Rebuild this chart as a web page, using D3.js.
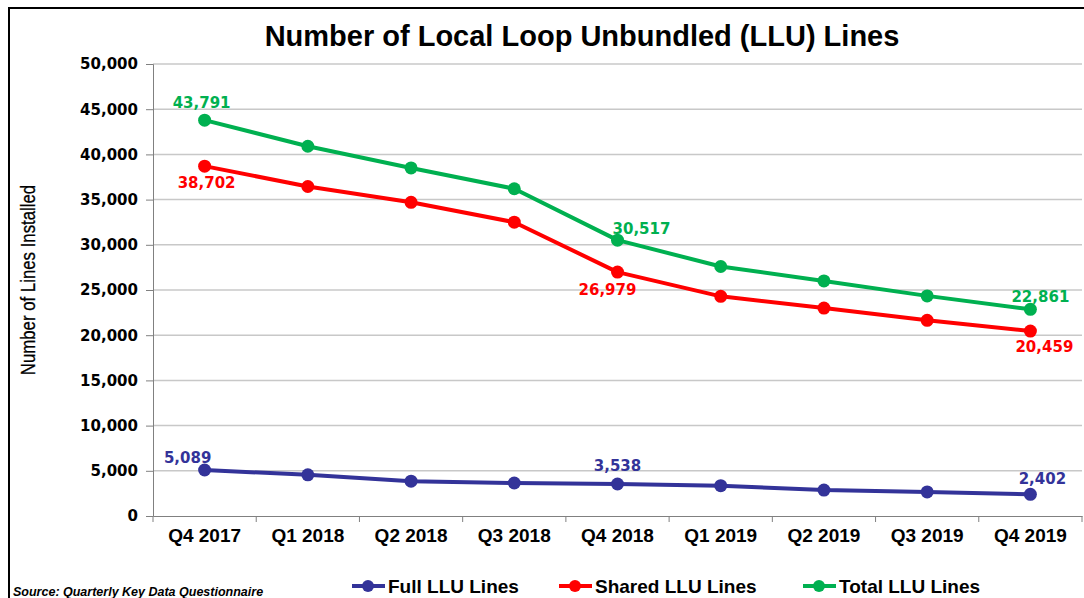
<!DOCTYPE html>
<html>
<head>
<meta charset="utf-8">
<script src="https://d3js.org/d3.v7.min.js"></script>
<style>
  body { margin: 0; background: #fff; }
  svg { font-family: "Liberation Sans", Arial, sans-serif; }
  .grid line { stroke: #c8c8c8; stroke-width: 1.5; }
  .axis path, .axis line { stroke: #808080; }
  .num { font-family: "DejaVu Sans", Verdana, sans-serif; font-weight: bold; font-size: 15px; }
</style>
</head>
<body>
<script>

  // data
  var quarters = ["Q4 2017", "Q1 2018", "Q2 2018", "Q3 2018", "Q4 2018", "Q1 2019", "Q2 2019", "Q3 2019", "Q4 2019"];
  var fullLines   = [5089, 4550, 3850, 3650, 3538, 3350, 2870, 2660, 2402];
  var sharedLines = [38702, 36450, 34700, 32500, 26979, 24300, 23000, 21650, 20459];
  var totalLines  = [43791, 40900, 38500, 36200, 30517, 27600, 26000, 24350, 22861];
  var yTicks = [0, 5000, 10000, 15000, 20000, 25000, 30000, 35000, 40000, 45000, 50000];

  var series = [
    {name: "Full LLU Lines",   values: fullLines,   color: "#333399", lx: 352, labels: [[0, -17, -12], [4, 0, -18], [8, 12, -16]]},
    {name: "Shared LLU Lines", values: sharedLines, color: "#ff0000", lx: 559, labels: [[0, 2, 17], [4, -10, 18], [8, 14, 16]]},
    {name: "Total LLU Lines",  values: totalLines,  color: "#00b050", lx: 803, labels: [[0, -3, -17], [4, 24, -11], [8, 10, -13]]}
  ];

  var W = 1084, H = 598;
  var margin = {top: 64, right: 2, bottom: 82, left: 153},
      width = W - margin.left - margin.right,
      height = H - margin.top - margin.bottom;

  var svg = d3.select("body").append("svg")
      .attr("width", W)
      .attr("height", H);

  svg.append("rect").attr("width", W).attr("height", H).attr("fill", "#fff");

  // outer frame
  svg.append("rect")
      .attr("x", 9).attr("y", 8)
      .attr("width", W + 10).attr("height", H + 10)
      .attr("fill", "none").attr("stroke", "#000").attr("stroke-width", 2);

  svg.append("text")
      .attr("x", 582).attr("y", 46)
      .attr("text-anchor", "middle")
      .attr("font-size", "29px").attr("font-weight", "bold")
      .text("Number of Local Loop Unbundled (LLU) Lines");

  var g = svg.append("g").attr("transform", "translate(" + margin.left + "," + margin.top + ")");

  var x = d3.scaleBand().domain(quarters).range([0, width]);
  var y = d3.scaleLinear().domain([0, 50000]).range([height, 0]);

  // gridlines
  g.append("g").attr("class", "grid")
    .selectAll("line").data(yTicks.filter(d => d > 0))
    .enter().append("line")
      .attr("x1", 0).attr("x2", width)
      .attr("y1", d => y(d)).attr("y2", d => y(d));

  // y axis
  var yAxis = g.append("g").attr("class", "axis")
      .call(d3.axisLeft(y).tickValues(yTicks).tickSize(7).tickPadding(8).tickFormat(d3.format(",")));
  yAxis.selectAll("text").attr("class", "num").attr("fill", "#000");

  // x axis, ticks between categories
  var xAxis = g.append("g").attr("class", "axis")
      .attr("transform", "translate(0," + height + ")")
      .call(d3.axisBottom(x).tickSize(0).tickPadding(13));
  xAxis.selectAll("text")
      .attr("font-family", "Liberation Sans, Arial, sans-serif")
      .attr("font-size", "19px").attr("font-weight", "bold").attr("fill", "#000");
  xAxis.selectAll(".sep")
    .data(d3.range(quarters.length + 1))
    .enter().append("line")
      .attr("class", "sep")
      .attr("x1", i => i * x.step()).attr("x2", i => i * x.step())
      .attr("y1", 0).attr("y2", 6)
      .attr("stroke", "#808080");

  // y axis title (condensed look)
  svg.append("text")
      .attr("transform", "translate(35,280) rotate(-90) scale(0.8,1)")
      .attr("text-anchor", "middle")
      .attr("font-size", "21px")
      .attr("stroke", "#000").attr("stroke-width", 0.3)
      .text("Number of Lines Installed");

  var cx = (d, i) => x(quarters[i]) + x.bandwidth() / 2;
  var line = d3.line().x(cx).y(d => y(d));

  series.forEach(s => {
    g.append("path")
        .datum(s.values)
        .attr("d", line)
        .attr("fill", "none")
        .attr("stroke", s.color)
        .attr("stroke-width", 4)
        .attr("stroke-linejoin", "round");

    g.selectAll(null).data(s.values)
      .enter().append("circle")
        .attr("cx", cx).attr("cy", d => y(d))
        .attr("r", 6.5)
        .attr("fill", s.color);

    g.selectAll(null).data(s.labels)
      .enter().append("text")
        .attr("class", "num")
        .attr("x", l => cx(null, l[0]) + l[1])
        .attr("y", l => y(s.values[l[0]]) + l[2])
        .attr("dy", "0.35em")
        .attr("text-anchor", "middle")
        .attr("fill", s.color)
        .text(l => d3.format(",")(s.values[l[0]]));

    // legend
    var lg = svg.append("g").attr("transform", "translate(" + s.lx + ",586)");
    lg.append("line").attr("x1", 0).attr("x2", 33).attr("stroke", s.color).attr("stroke-width", 4);
    lg.append("circle").attr("cx", 16).attr("r", 6).attr("fill", s.color);
    lg.append("text")
        .attr("x", 36).attr("dy", "0.35em")
        .attr("font-size", "19px").attr("font-weight", "bold")
        .text(s.name);
  });

  svg.append("text")
      .attr("x", 13).attr("y", 596)
      .attr("font-size", "12.5px").attr("font-weight", "bold").attr("font-style", "italic")
      .text("Source: Quarterly Key Data Questionnaire");

</script>
</body>
</html>
